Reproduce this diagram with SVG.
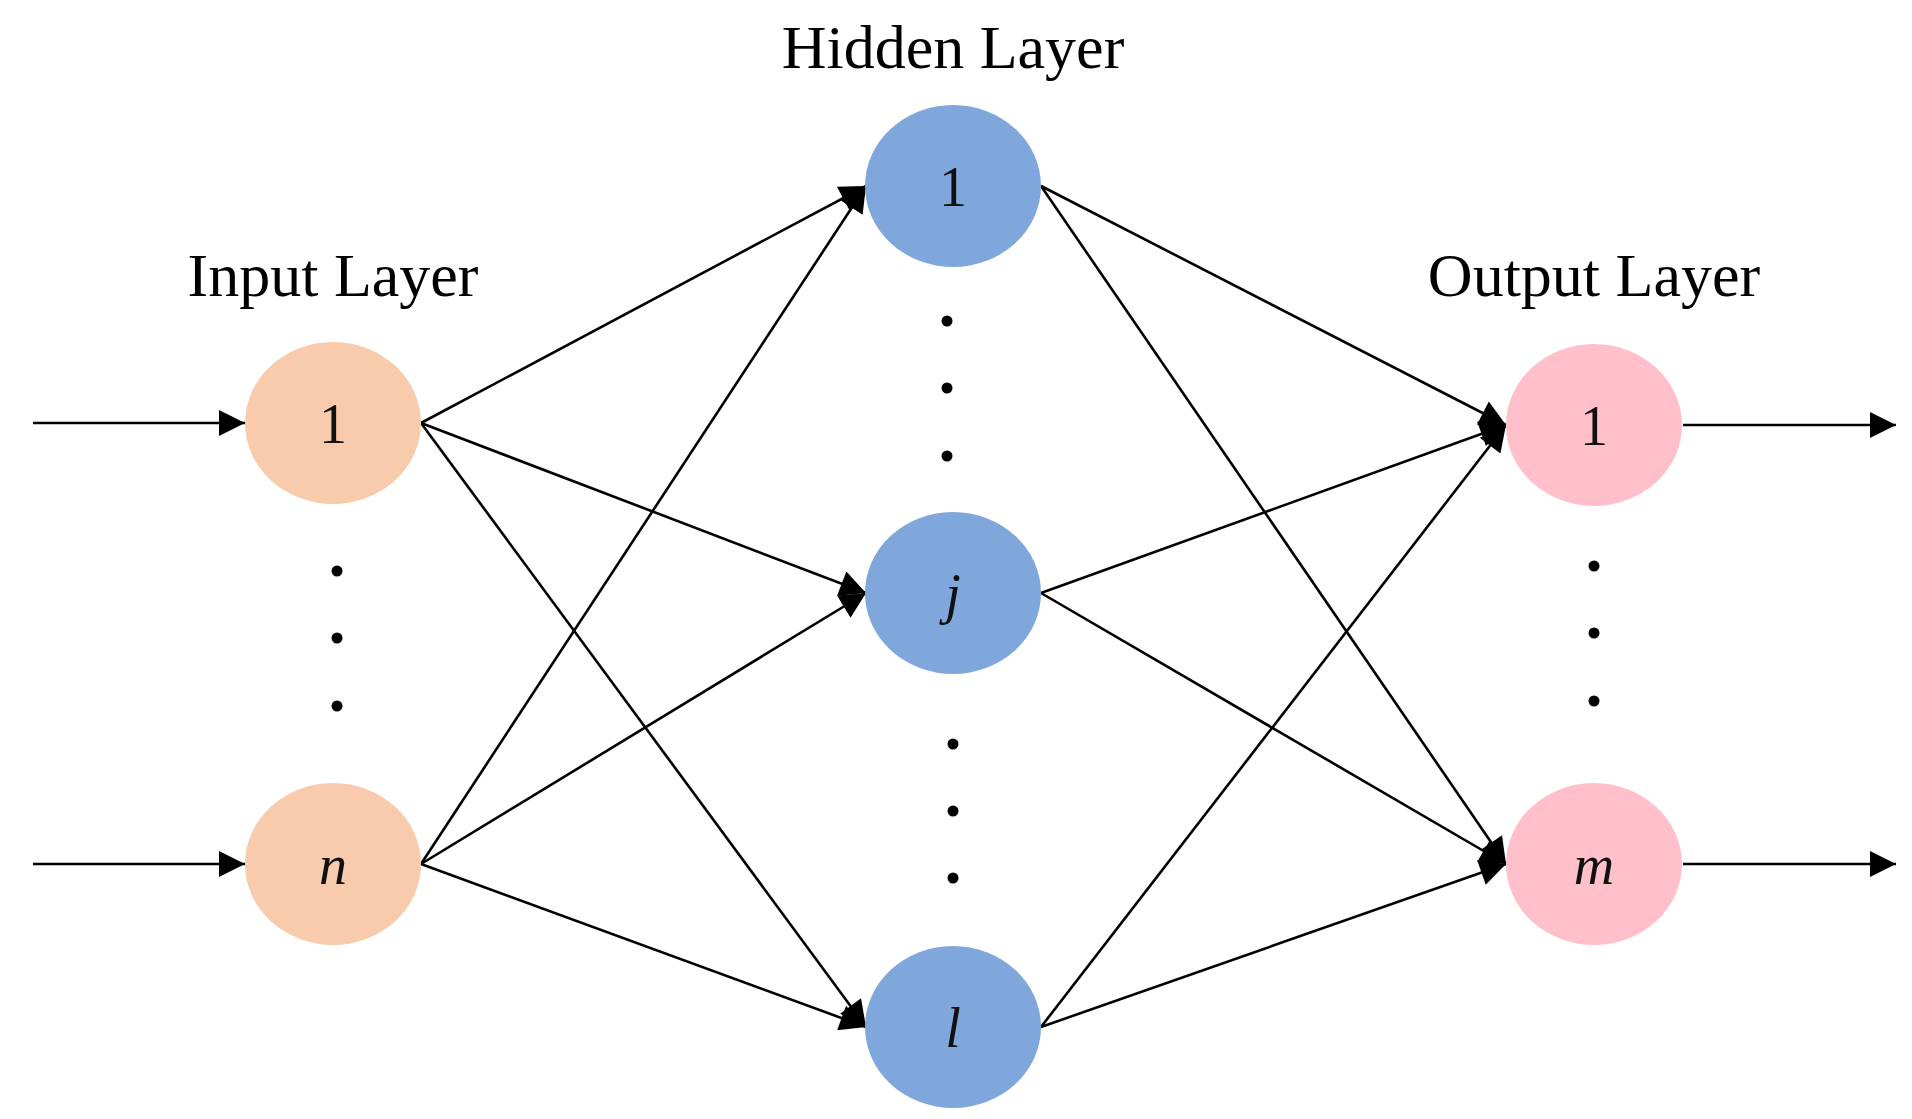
<svg xmlns="http://www.w3.org/2000/svg" width="1912" height="1119" viewBox="0 0 1912 1119">
<style>
.t{font-family:"Liberation Serif",serif;font-size:62px;fill:#000;text-anchor:middle}
.l{font-family:"Liberation Serif",serif;font-size:56px;fill:#111;text-anchor:middle}
.i{font-style:italic}
.e{stroke:#000;stroke-width:2.6;fill:none;marker-end:url(#ah)}
.in{fill:#F8CBAD}.hd{fill:#7FA7DC}.out{fill:#FFC0CB}
</style>
<defs><marker id="ah" markerWidth="10" markerHeight="10" refX="10" refY="5" orient="auto" markerUnits="userSpaceOnUse" viewBox="0 0 10 10" style="overflow:visible"><path d="M0,0 L10,5 L0,10 Z" fill="#000" transform="scale(1)"/></marker>
<marker id="ah2" viewBox="0 0 10 10" refX="10" refY="5" markerWidth="28" markerHeight="26" markerUnits="userSpaceOnUse" orient="auto"><path d="M0,0 L10,5 L0,10 Z" fill="#000"/></marker></defs>
<rect width="1912" height="1119" fill="#fff"/>
<g id="connectors" style="marker-end:url(#ah2)">
<line class="e" style="marker-end:url(#ah2)" x1="33" y1="423" x2="245" y2="423"/>
<line class="e" style="marker-end:url(#ah2)" x1="33" y1="864" x2="245" y2="864"/>
<line class="e" style="marker-end:url(#ah2)" x1="421" y1="423" x2="866" y2="186"/>
<line class="e" style="marker-end:url(#ah2)" x1="421" y1="423" x2="866" y2="593"/>
<line class="e" style="marker-end:url(#ah2)" x1="421" y1="423" x2="866" y2="1027"/>
<line class="e" style="marker-end:url(#ah2)" x1="421" y1="864" x2="866" y2="186"/>
<line class="e" style="marker-end:url(#ah2)" x1="421" y1="864" x2="866" y2="593"/>
<line class="e" style="marker-end:url(#ah2)" x1="421" y1="864" x2="866" y2="1027"/>
<line class="e" style="marker-end:url(#ah2)" x1="1041" y1="186" x2="1506" y2="425"/>
<line class="e" style="marker-end:url(#ah2)" x1="1041" y1="186" x2="1506" y2="864"/>
<line class="e" style="marker-end:url(#ah2)" x1="1041" y1="593" x2="1506" y2="425"/>
<line class="e" style="marker-end:url(#ah2)" x1="1041" y1="593" x2="1506" y2="864"/>
<line class="e" style="marker-end:url(#ah2)" x1="1041" y1="1027" x2="1506" y2="425"/>
<line class="e" style="marker-end:url(#ah2)" x1="1041" y1="1027" x2="1506" y2="864"/>
<line class="e" style="marker-end:url(#ah2)" x1="1683" y1="425" x2="1896" y2="425"/>
<line class="e" style="marker-end:url(#ah2)" x1="1683" y1="864" x2="1896" y2="864"/>
</g>
<text class="t" x="333" y="296">Input Layer</text>
<text class="t" x="953" y="68">Hidden Layer</text>
<text class="t" x="1594" y="296">Output Layer</text>
<g id="in1"><ellipse class="in" cx="333" cy="423" rx="88" ry="81"/><text class="l" x="333" y="443">1</text></g>
<g id="inn"><ellipse class="in" cx="333" cy="864" rx="88" ry="81"/><text class="l i" x="333" y="884">n</text></g>
<g id="h1"><ellipse class="hd" cx="953" cy="186" rx="88" ry="81"/><text class="l" x="953" y="206">1</text></g>
<g id="hj"><ellipse class="hd" cx="953" cy="593" rx="88" ry="81"/><text class="l i" x="953" y="613">j</text></g>
<g id="hl"><ellipse class="hd" cx="953" cy="1027" rx="88" ry="81"/><text class="l i" x="953" y="1047">l</text></g>
<g id="o1"><ellipse class="out" cx="1594" cy="425" rx="88" ry="81"/><text class="l" x="1594" y="445">1</text></g>
<g id="om"><ellipse class="out" cx="1594" cy="864" rx="88" ry="81"/><text class="l i" x="1594" y="884">m</text></g>
<g id="dots" fill="#000">
<circle cx="337" cy="571" r="5.5"/><circle cx="337" cy="638" r="5.5"/><circle cx="337" cy="706" r="5.5"/>
<circle cx="947" cy="321" r="5.5"/><circle cx="947" cy="388" r="5.5"/><circle cx="947" cy="456" r="5.5"/>
<circle cx="953" cy="744" r="5.5"/><circle cx="953" cy="811" r="5.5"/><circle cx="953" cy="878" r="5.5"/>
<circle cx="1594" cy="566" r="5.5"/><circle cx="1594" cy="633" r="5.5"/><circle cx="1594" cy="701" r="5.5"/>
</g>
</svg>
